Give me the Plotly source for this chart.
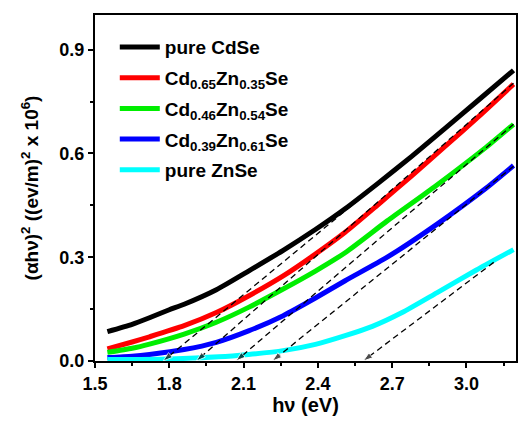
import plotly.graph_objects as go

# ---- data ----
series_names = [
    "pure CdSe",
    "Cd<sub>0.65</sub>Zn<sub>0.35</sub>Se",
    "Cd<sub>0.46</sub>Zn<sub>0.54</sub>Se",
    "Cd<sub>0.39</sub>Zn<sub>0.61</sub>Se",
    "pure ZnSe",
]
series_colors = ["#000000", "#ff0000", "#00ee00", "#0000ff", "#00ffff"]

x_cdse = [1.55, 1.65, 1.72, 1.80, 1.86, 1.99, 2.12, 2.26, 2.39, 2.51, 2.64, 2.78, 2.91, 3.05, 3.19]
y_cdse = [0.085, 0.106, 0.125, 0.148, 0.164, 0.206, 0.260, 0.320, 0.380, 0.440, 0.512, 0.592, 0.670, 0.755, 0.840]

x_cd65 = [1.55, 1.65, 1.72, 1.86, 1.99, 2.12, 2.26, 2.39, 2.51, 2.64, 2.78, 2.91, 3.05, 3.19]
y_cd65 = [0.035, 0.055, 0.070, 0.102, 0.140, 0.188, 0.246, 0.309, 0.372, 0.450, 0.536, 0.618, 0.707, 0.800]

x_cd46 = [1.55, 1.65, 1.72, 1.86, 1.99, 2.12, 2.26, 2.39, 2.51, 2.68, 2.87, 3.08, 3.19]
y_cd46 = [0.025, 0.037, 0.049, 0.078, 0.112, 0.155, 0.208, 0.260, 0.313, 0.405, 0.503, 0.618, 0.684]

x_cd39 = [1.55, 1.65, 1.72, 1.86, 1.99, 2.12, 2.26, 2.39, 2.51, 2.68, 2.88, 3.08, 3.19]
y_cd39 = [0.010, 0.014, 0.019, 0.033, 0.054, 0.087, 0.131, 0.182, 0.232, 0.300, 0.395, 0.500, 0.565]

x_znse = [1.55, 1.80, 2.00, 2.12, 2.26, 2.39, 2.51, 2.62, 2.74, 2.88, 3.04, 3.19]
y_znse = [0.004, 0.006, 0.012, 0.019, 0.030, 0.048, 0.073, 0.100, 0.140, 0.197, 0.263, 0.322]

# tangent (Tauc) lines: band-gap intercept and upper end point
tangent_intercepts = [1.775, 1.909, 2.069, 2.216, 2.583]
tangent_end_x = [3.19, 3.19, 3.19, 3.19, 3.11]
tangent_end_y = [0.835, 0.803, 0.684, 0.563, 0.285]

x_ticks = [1.5, 1.8, 2.1, 2.4, 2.7, 3.0]
y_ticks = [0.0, 0.3, 0.6, 0.9]

xs = [x_cdse, x_cd65, x_cd46, x_cd39, x_znse]
ys = [y_cdse, y_cd65, y_cd46, y_cd39, y_znse]

FONT = "Liberation Sans, Arial, sans-serif"

fig = go.Figure()
for i, (name, col, x, y) in enumerate(zip(series_names, series_colors, xs, ys)):
    fig.add_trace(go.Scatter(
        x=x, y=y, mode="lines", name=name,
        line=dict(color=col, width=5, shape="spline", smoothing=0.6),
        legendgroup=f"g{i}", hoverinfo="skip",
    ))

for x0, x1, y1 in zip(tangent_intercepts, tangent_end_x, tangent_end_y):
    fig.add_trace(go.Scatter(
        x=[x1, x0], y=[y1, 0.0], mode="lines+markers", showlegend=False,
        line=dict(color="black", width=1.3, dash="6px,4px"),
        marker=dict(symbol="arrow", angleref="previous", size=[0, 10], color="black"),
        hoverinfo="skip", cliponaxis=False,
    ))

def axis_style():
    return dict(
        showline=True, linecolor="black", linewidth=2, mirror=True,
        ticks="outside", ticklen=5, tickwidth=2, tickcolor="black",
        showgrid=False, zeroline=False,
        tickfont=dict(family=FONT, size=18, color="black", weight="bold"),
    )

fig.update_layout(
    width=520, height=422,
    margin=dict(l=95, r=2, t=15, b=61),
    paper_bgcolor="white", plot_bgcolor="white",
    xaxis=dict(range=[1.5, 3.2], tickvals=x_ticks, ticktext=[f"{v:.1f}" for v in x_ticks],
               title=dict(text="hν (eV)", font=dict(family=FONT, size=20, color="black", weight="bold"),
                          standoff=4),
               minor=dict(tickvals=[1.65, 1.95, 2.25, 2.55, 2.85, 3.15], ticks="outside",
                          ticklen=3, tickwidth=2, tickcolor="black"),
               **axis_style()),
    yaxis=dict(range=[0, 1.0], tickvals=y_ticks, ticktext=[f"{v:.1f}" for v in y_ticks],
               title=dict(text="(αhν)<sup>2</sup> ((ev/m)<sup>2</sup> x 10<sup>6</sup>)",
                          font=dict(family=FONT, size=19, color="black", weight="bold"),
                          standoff=16),
               minor=dict(tickvals=[0.15, 0.45, 0.75], ticks="outside",
                          ticklen=3, tickwidth=2, tickcolor="black"),
               **axis_style()),
    legend=dict(x=0.047, y=0.962, xanchor="left", yanchor="top",
                bgcolor="rgba(0,0,0,0)", borderwidth=0,
                font=dict(family=FONT, size=19, color="black", weight="bold"),
                tracegroupgap=3, itemwidth=40),
    showlegend=True,
)

fig.write_html("out.html", config={"displayModeBar": False},
               post_script="document.body.style.margin='0';")
